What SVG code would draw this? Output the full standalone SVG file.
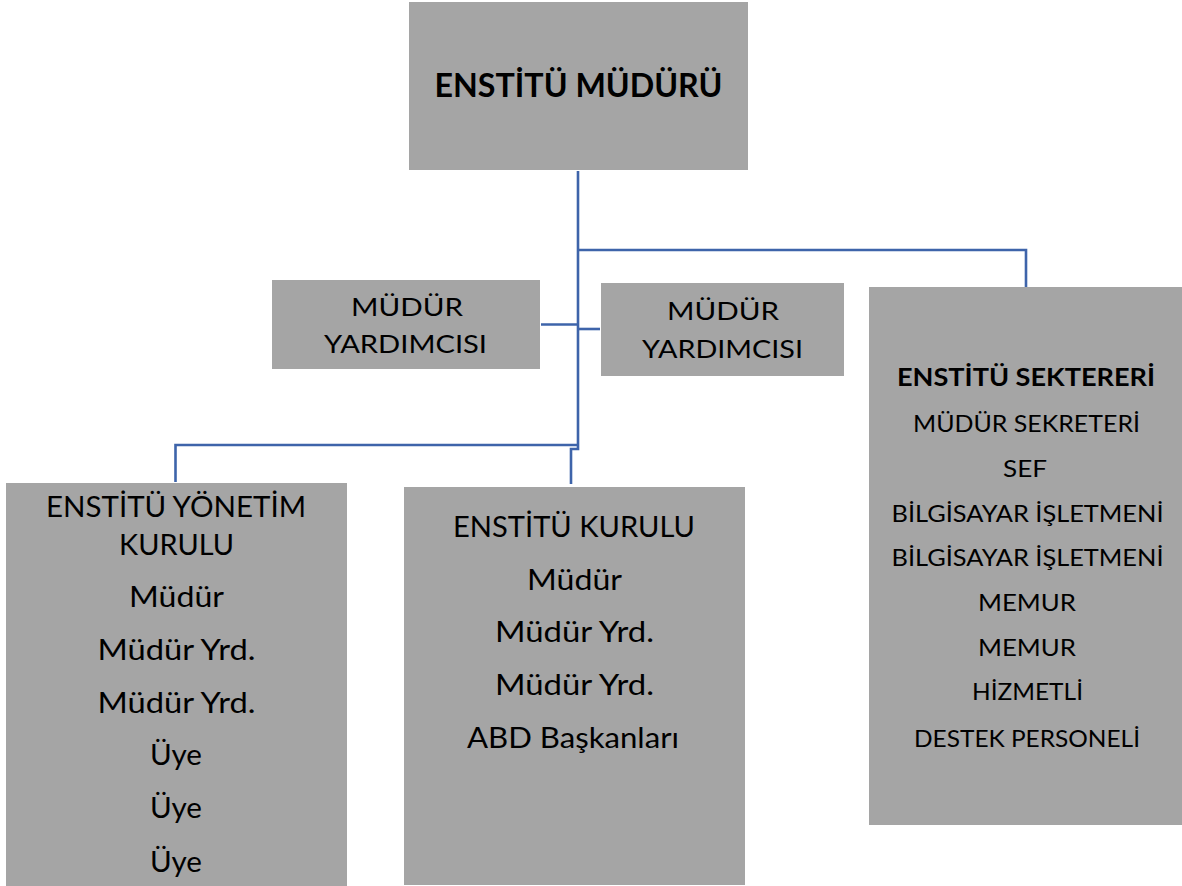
<svg xmlns="http://www.w3.org/2000/svg" width="1182" height="886" viewBox="0 0 1182 886">
<style>
.box{fill:#A5A5A5;}
.t{font-family:Lato,"Liberation Sans","Noto Sans",sans-serif;fill:#000;text-anchor:middle;}
.b{font-weight:bold;}
.c{fill:none;stroke:#3E64AA;stroke-width:2.6;}
</style>
<rect x="0" y="0" width="1182" height="886" fill="#FFFFFF"/>
<g id="connectors">
<path class="c" d="M578,171 V449 H571 V484"/>
<path class="c" d="M578,250 H1026 V287"/>
<path class="c" d="M578,445 H175.5 V482"/>
<path class="c" d="M541,324.5 H578"/>
<path class="c" d="M578,329 H600"/>
</g>
<g id="enstitu-muduru">
<rect class="box" x="409" y="2" width="339" height="168"/>
<text class="t b" x="578.5" y="97" font-size="33" textLength="288" lengthAdjust="spacingAndGlyphs">ENSTİTÜ MÜDÜRÜ</text>
</g>
<g id="mudur-yardimcisi-1">
<rect class="box" x="272" y="280" width="268" height="89"/>
<text class="t" x="407" y="316" font-size="25" textLength="112" lengthAdjust="spacingAndGlyphs">MÜDÜR</text>
<text class="t" x="405.5" y="353" font-size="25" textLength="163" lengthAdjust="spacingAndGlyphs">YARDIMCISI</text>
</g>
<g id="mudur-yardimcisi-2">
<rect class="box" x="601" y="283" width="243" height="93"/>
<text class="t" x="723" y="320" font-size="25" textLength="112" lengthAdjust="spacingAndGlyphs">MÜDÜR</text>
<text class="t" x="722.5" y="358" font-size="25" textLength="161" lengthAdjust="spacingAndGlyphs">YARDIMCISI</text>
</g>
<g id="enstitu-sekreteri">
<rect class="box" x="869" y="287" width="313" height="538"/>
<text class="t b" x="1026" y="386" font-size="24" textLength="258" lengthAdjust="spacingAndGlyphs">ENSTİTÜ SEKTERERİ</text>
<text class="t" x="1026.5" y="432" font-size="23" textLength="227" lengthAdjust="spacingAndGlyphs">MÜDÜR SEKRETERİ</text>
<text class="t" x="1025" y="477" font-size="23" textLength="44" lengthAdjust="spacingAndGlyphs">SEF</text>
<text class="t" x="1027.5" y="522" font-size="23" textLength="272" lengthAdjust="spacingAndGlyphs">BİLGİSAYAR İŞLETMENİ</text>
<text class="t" x="1027.5" y="566" font-size="23" textLength="272" lengthAdjust="spacingAndGlyphs">BİLGİSAYAR İŞLETMENİ</text>
<text class="t" x="1027" y="611" font-size="23" textLength="98" lengthAdjust="spacingAndGlyphs">MEMUR</text>
<text class="t" x="1027" y="656" font-size="23" textLength="98" lengthAdjust="spacingAndGlyphs">MEMUR</text>
<text class="t" x="1027.5" y="700" font-size="23" textLength="111" lengthAdjust="spacingAndGlyphs">HİZMETLİ</text>
<text class="t" x="1027" y="747" font-size="23" textLength="226" lengthAdjust="spacingAndGlyphs">DESTEK PERSONELİ</text>
</g>
<g id="enstitu-yonetim-kurulu">
<rect class="box" x="6" y="483" width="341" height="403"/>
<text class="t" x="176" y="517" font-size="28" textLength="260" lengthAdjust="spacingAndGlyphs">ENSTİTÜ YÖNETİM</text>
<text class="t" x="176.5" y="555" font-size="28" textLength="115" lengthAdjust="spacingAndGlyphs">KURULU</text>
<text class="t" x="176.5" y="607" font-size="28" textLength="95" lengthAdjust="spacingAndGlyphs">Müdür</text>
<text class="t" x="176.5" y="660" font-size="28" textLength="158" lengthAdjust="spacingAndGlyphs">Müdür Yrd.</text>
<text class="t" x="176.5" y="713" font-size="28" textLength="158" lengthAdjust="spacingAndGlyphs">Müdür Yrd.</text>
<text class="t" x="176" y="765" font-size="28" textLength="52" lengthAdjust="spacingAndGlyphs">Üye</text>
<text class="t" x="176" y="818" font-size="28" textLength="52" lengthAdjust="spacingAndGlyphs">Üye</text>
<text class="t" x="176" y="872" font-size="28" textLength="52" lengthAdjust="spacingAndGlyphs">Üye</text>
</g>
<g id="enstitu-kurulu">
<rect class="box" x="404" y="487" width="341" height="398"/>
<text class="t" x="574" y="537" font-size="28" textLength="242" lengthAdjust="spacingAndGlyphs">ENSTİTÜ KURULU</text>
<text class="t" x="574.5" y="590" font-size="28" textLength="95" lengthAdjust="spacingAndGlyphs">Müdür</text>
<text class="t" x="574.5" y="642" font-size="28" textLength="159" lengthAdjust="spacingAndGlyphs">Müdür Yrd.</text>
<text class="t" x="574.5" y="695" font-size="28" textLength="159" lengthAdjust="spacingAndGlyphs">Müdür Yrd.</text>
<text class="t" x="573" y="748" font-size="28" textLength="212" lengthAdjust="spacingAndGlyphs">ABD Başkanları</text>
</g>
</svg>
